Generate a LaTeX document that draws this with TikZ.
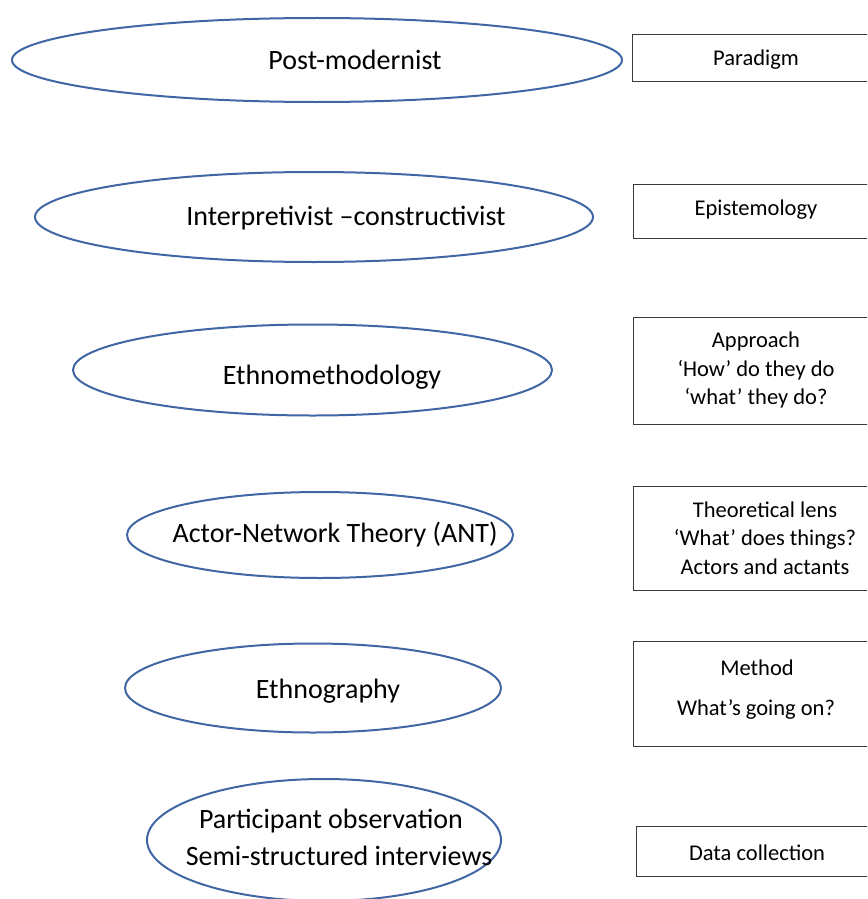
\documentclass[tikz,border=0pt]{standalone}
\usepackage{fontspec}
\setmainfont{Carlito}
\usetikzlibrary{shapes.geometric}
\definecolor{ovalblue}{HTML}{4166A4}
\definecolor{boxgray}{HTML}{3A3A3A}
\tikzset{
  oval/.style={ellipse, draw=ovalblue, line width=2pt, inner sep=0pt},
  etext/.style={font=\fontsize{28}{35}\selectfont, align=center, inner sep=0pt},
  rbox/.style={draw=boxgray, line width=1.3pt, anchor=north west, inner sep=0pt},
  btext/.style={font=\fontsize{22.5}{28.5}\selectfont, align=center, inner sep=0pt},
}
\begin{document}
\begin{tikzpicture}[x=1pt,y=-1pt]
\useasboundingbox (0,0) rectangle (867,899);
\clip (0,0) rectangle (867,899);
% ellipses
\node[oval, minimum width=610pt, minimum height=84pt] (e1) at (317,60) {};
\node[oval, minimum width=558pt, minimum height=90pt] (e2) at (314,217) {};
\node[oval, minimum width=479pt, minimum height=91pt] (e3) at (312.5,370) {};
\node[oval, minimum width=386pt, minimum height=86pt] (e4) at (320,535) {};
\node[oval, minimum width=376pt, minimum height=89pt] (e5) at (313,688) {};
\node[oval, minimum width=354pt, minimum height=122pt] (e6) at (324,840) {};
% ellipse texts
\node[etext] (t1) at (355,60) {Post-modernist};
\node[etext] (t2) at (346,218) {Interpretivist –constructivist};
\node[etext] (t3) at (332,377) {Ethnomethodology};
\node[etext] (t4) at (335,535) {Actor-Network Theory (ANT)};
\node[etext] (t5) at (328,691) {Ethnography};
\node[etext] (t6a) at (331,821) {Participant observation};
\node[etext] (t6b) at (339,856) {Semi-structured interviews};
% boxes
\node[rbox, minimum width=260pt, minimum height=47pt] (b1) at (632,34) {};
\node[rbox, minimum width=260pt, minimum height=54pt] (b2) at (633,184) {};
\node[rbox, minimum width=260pt, minimum height=107pt] (b3) at (633,317) {};
\node[rbox, minimum width=260pt, minimum height=104pt] (b4) at (633,486) {};
\node[rbox, minimum width=260pt, minimum height=105pt] (b5) at (633,641) {};
\node[rbox, minimum width=260pt, minimum height=50pt] (b6) at (636,826) {};
% box texts
\node[btext] (l1) at (756,60) {Paradigm};
\node[btext] (l2) at (756,210) {Epistemology};
\node[btext] (l3) at (756,370) {Approach\\‘How’ do they do\\‘what’ they do?};
\node[btext] (l4) at (765,538) {Theoretical lens\\‘What’ does things?\\Actors and actants};
\node[btext] (l5a) at (757,668) {Method};
\node[btext] (l5b) at (756,709) {What’s going on?};
\node[btext] (l6) at (757,853) {Data collection};
\end{tikzpicture}
\end{document}
